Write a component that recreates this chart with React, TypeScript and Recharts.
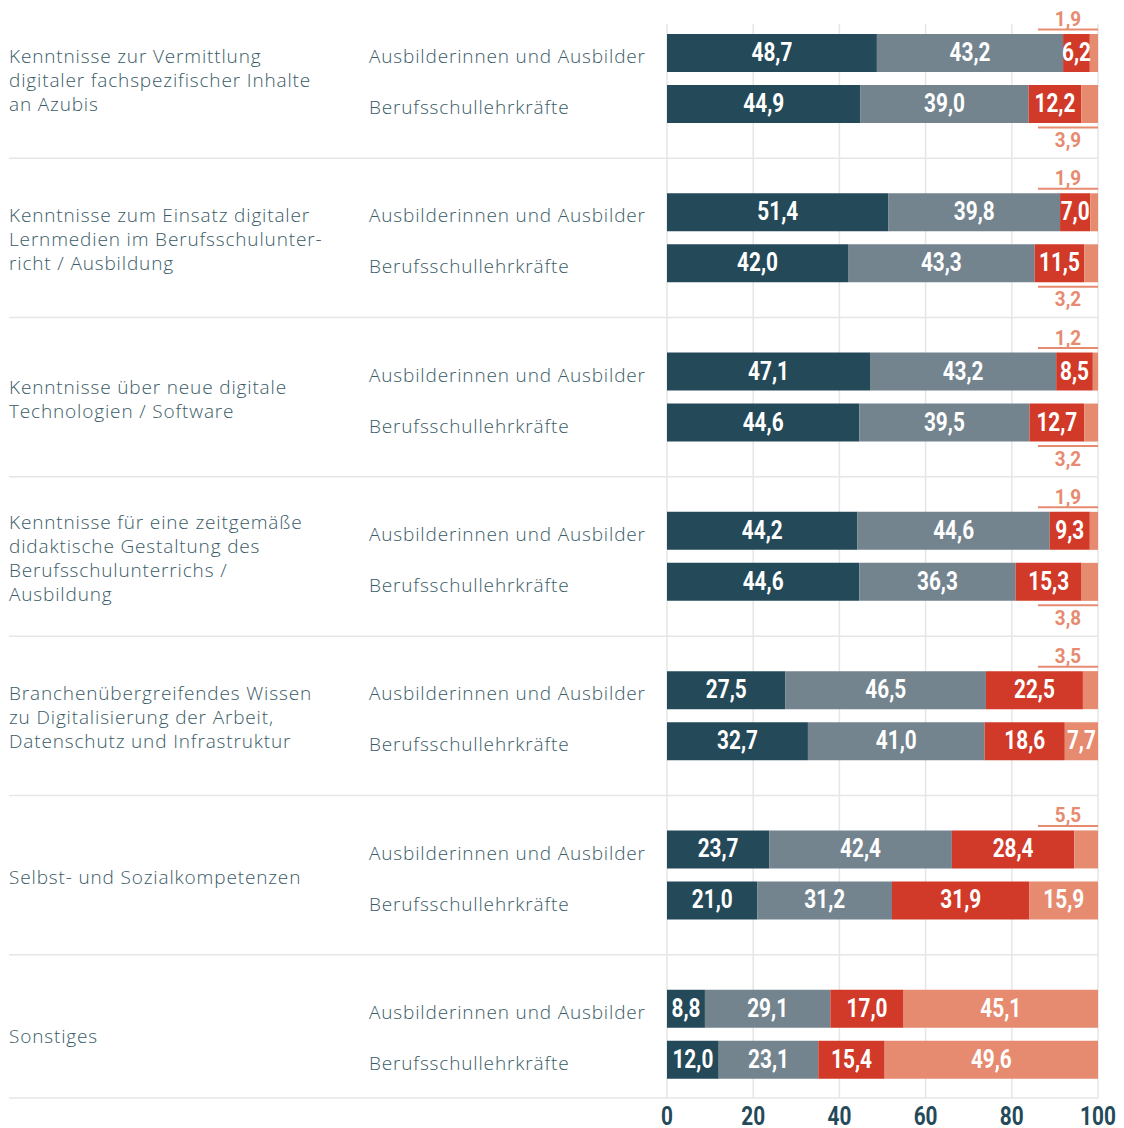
import React from 'react';
import { BarChart, Bar, XAxis, YAxis, CartesianGrid, LabelList } from 'recharts';

// topics (left column), one entry per line of the label
const topics = [
  ['Kenntnisse zur Vermittlung', 'digitaler fachspezifischer Inhalte', 'an Azubis'],
  ['Kenntnisse zum Einsatz digitaler', 'Lernmedien im Berufsschulunter-', 'richt / Ausbildung'],
  ['Kenntnisse über neue digitale', 'Technologien / Software'],
  ['Kenntnisse für eine zeitgemäße', 'didaktische Gestaltung des', 'Berufsschulunterrichs /', 'Ausbildung'],
  ['Branchenübergreifendes Wissen', 'zu Digitalisierung der Arbeit,', 'Datenschutz und Infrastruktur'],
  ['Selbst- und Sozialkompetenzen'],
  ['Sonstiges'],
];
const respondents = ['Ausbilderinnen und Ausbilder', 'Berufsschullehrkräfte'];

// shares in %, per topic: trainers first, then vocational school teachers
const share1 = [48.7, 44.9, 51.4, 42.0, 47.1, 44.6, 44.2, 44.6, 27.5, 32.7, 23.7, 21.0, 8.8, 12.0];
const share2 = [43.2, 39.0, 39.8, 43.3, 43.2, 39.5, 44.6, 36.3, 46.5, 41.0, 42.4, 31.2, 29.1, 23.1];
const share3 = [6.2, 12.2, 7.0, 11.5, 8.5, 12.7, 9.3, 15.3, 22.5, 18.6, 28.4, 31.9, 17.0, 15.4];
const share4 = [1.9, 3.9, 1.9, 3.2, 1.2, 3.2, 1.9, 3.8, 3.5, 7.7, 5.5, 15.9, 45.1, 49.6];
const xTicks = [0, 20, 40, 60, 80, 100];

const COLORS = ['#244a59', '#73848f', '#d13a29', '#e68b70'];
const TEXT = '#3a5b67';
const GRID = '#e6e6e6';
const FONT = '"Open Sans", Lato, sans-serif';

const W = 1116;
const H = 1120;
const PLOT_LEFT = 659;
const PLOT_RIGHT = 1090;
const PLOT_TOP = 16;
const PLOT_BOTTOM = 1090;
const BAR = 38;
const GAP = 13;
const HALF = (BAR + GAP) / 2;

const shares = [share1, share2, share3, share4];
const data = topics.map((_, t) => {
  const row: any = { key: `t${t}` };
  shares.forEach((s, k) => {
    row[`a${k + 1}`] = s[t * 2];
    row[`b${k + 1}`] = s[t * 2 + 1];
  });
  return row;
});

const fmt = (v: number) => v.toFixed(1).replace('.', ',');

// bold "condensed" numbers: Roboto squeezed horizontally
function Cond({ x, y, size, fill, sx = 0.8, children }: any) {
  return (
    <g transform={`translate(${x},${y}) scale(${sx},1)`}>
      <text x={0} y={0} textAnchor="middle" fontFamily="Roboto" fontWeight={700} fontSize={size} fill={fill}>
        {children}
      </text>
    </g>
  );
}

const box = (p: any) => (p.viewBox && p.viewBox.width != null ? p.viewBox : p);

const insideLabel = (p: any) => {
  if (!p.value) return null;
  const b = box(p);
  return <Cond x={b.x + b.width / 2} y={b.y + b.height / 2 + 8} size={26} fill="#fff">{fmt(p.value)}</Cond>;
};

// last segment: small values go outside with a leader line, above for trainers, below for teachers
const lastLabel = (above: boolean) => (p: any) => {
  if (!p.value) return null;
  if (p.value >= 6) return insideLabel(p);
  const b = box(p);
  const right = b.x + b.width;
  const ly = above ? b.y - 4.5 : b.y + b.height + 4.5;
  const ty = above ? b.y - 8 : b.y + b.height + 24;
  return (
    <g>
      <line x1={right - 60} x2={right} y1={ly} y2={ly} stroke={COLORS[3]} strokeWidth={2} />
      <Cond x={right - 30} y={ty} size={21} sx={0.9} fill={COLORS[3]}>{fmt(p.value)}</Cond>
    </g>
  );
};

function TopicTick(p: any) {
  const t = Number(String(p.payload.value).slice(1));
  const lines = topics[t];
  if (!lines) return null;
  const y = p.y;
  const first = y + 8.5 - (lines.length - 1) * 12;
  const sepY = t === topics.length - 1 ? PLOT_BOTTOM : y + (p.payload.offset || 80);
  const txt = { fontFamily: FONT, fontSize: 19, fontWeight: 300, letterSpacing: 0.85, fill: TEXT };
  return (
    <g>
      <text x={1} y={first} {...txt}>
        {lines.map((l, i) => (
          <tspan key={i} x={1} y={first + i * 24}>{l}</tspan>
        ))}
      </text>
      {respondents.map((r, i) => (
        <text key={r} x={361} y={y + (i === 0 ? -HALF : HALF) + 10} {...txt}>
          {r}
        </text>
      ))}
      <line x1={1} x2={PLOT_RIGHT} y1={sepY} y2={sepY} stroke={GRID} strokeWidth={1.5} />
    </g>
  );
}

export default function App() {
  return (
    <div style={{ width: W, height: H }}>
      <BarChart
        width={W}
        height={H}
        data={data}
        layout="vertical"
        margin={{ top: PLOT_TOP, right: W - PLOT_RIGHT, bottom: 0, left: 0 }}
        barSize={BAR}
        barGap={GAP}
      >
        <CartesianGrid vertical horizontal={false} stroke={GRID} strokeWidth={1.5} />
        <XAxis
          type="number"
          domain={[0, 100]}
          allowDataOverflow
          ticks={xTicks}
          interval={0}
          axisLine={false}
          tickLine={false}
          height={H - PLOT_BOTTOM}
          tick={(p: any) => <Cond x={p.x} y={PLOT_BOTTOM + 27} size={26} fill={COLORS[0]}>{p.payload.value}</Cond>}
        />
        <YAxis
          type="category"
          dataKey="key"
          width={PLOT_LEFT}
          interval={0}
          axisLine={false}
          tickLine={false}
          padding={{ top: -25, bottom: -16 }}
          tick={(p: any) => <TopicTick {...p} />}
        />
        {['a', 'b'].map((s) =>
          [1, 2, 3, 4].map((k) => (
            <Bar key={`${s}${k}`} dataKey={`${s}${k}`} stackId={s} fill={COLORS[k - 1]} isAnimationActive={false}>
              <LabelList dataKey={`${s}${k}`} content={k === 4 ? lastLabel(s === 'a') : insideLabel} />
            </Bar>
          ))
        )}
      </BarChart>
    </div>
  );
}
